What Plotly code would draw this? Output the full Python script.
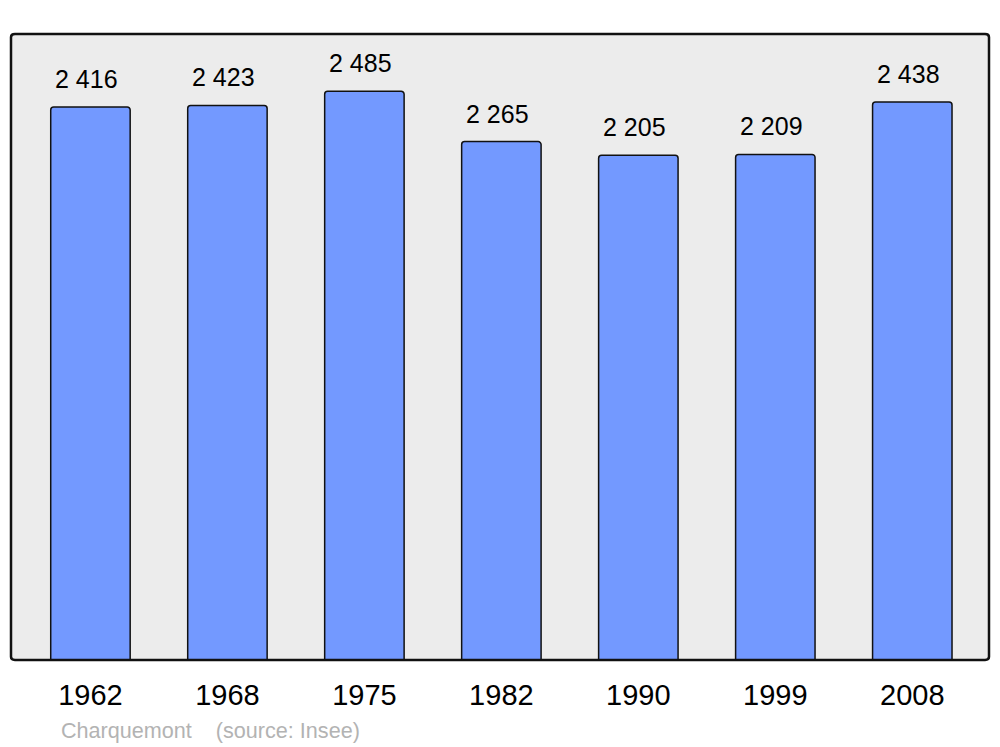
import plotly.graph_objects as go

years = ["1962", "1968", "1975", "1982", "1990", "1999", "2008"]
population = [2416, 2423, 2485, 2265, 2205, 2209, 2438]
labels = ["2 416", "2 423", "2 485", "2 265", "2 205", "2 209", "2 438"]
source_text = "Charquemont    (source: Insee)"

FONT = "Liberation Sans, Arial, sans-serif"

fig = go.Figure()
fig.add_trace(go.Bar(
    x=list(range(len(years))), y=population,
    width=0.58,
    marker=dict(color="#7399ff", line=dict(color="#111111", width=1.5), cornerradius=3),
    hoverinfo="skip",
))

for i, (v, lab) in enumerate(zip(population, labels)):
    fig.add_annotation(x=i, y=v, text=lab, showarrow=False, yanchor="middle",
                       xshift=-4, yshift=28, font=dict(family=FONT, size=25, color="#000000"))

fig.add_annotation(xref="paper", yref="paper", x=0.049, y=-0.112, xanchor="left", yanchor="middle",
                   text=source_text, showarrow=False,
                   font=dict(family=FONT, size=21.6, color="#b3b3b3"))

fig.add_shape(type="path", xref="paper", yref="paper",
              path="M 0.004,0 L 0.996,0 Q 1,0 1,0.005 L 1,0.995 Q 1,1 0.996,1 "
                   "L 0.004,1 Q 0,1 0,0.995 L 0,0.005 Q 0,0 0.004,0 Z",
              line=dict(color="#111111", width=2.5), layer="above")

fig.update_layout(
    width=1000, height=747,
    margin=dict(l=11, r=11, t=34, b=87),
    paper_bgcolor="#ffffff",
    plot_bgcolor="#ececec",
    showlegend=False,
    xaxis=dict(range=[-0.58, 6.56], showgrid=False, zeroline=False,
               tickmode="array", tickvals=list(range(len(years))), ticktext=years,
               showline=False, ticks="", tickfont=dict(family=FONT, size=29, color="#000000"),
               ticklabelstandoff=15, fixedrange=True),
    yaxis=dict(range=[0, 2735], showgrid=False, zeroline=False, showline=False,
               showticklabels=False, ticks="", fixedrange=True),
)

fig.write_html("out.html", config={"displayModeBar": False, "staticPlot": True},
               post_script="document.body.style.margin='0';document.body.style.overflow='hidden';")
